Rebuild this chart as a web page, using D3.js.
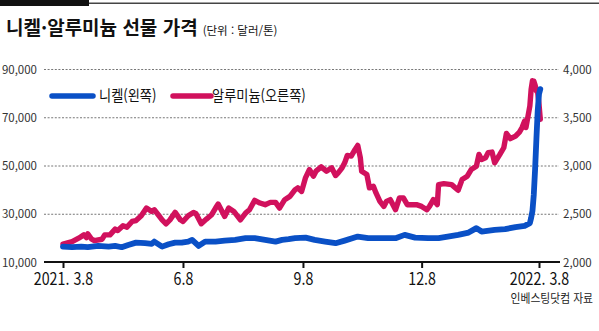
<!DOCTYPE html>
<html lang="ko">
<head>
<meta charset="utf-8">
<script src="https://cdn.jsdelivr.net/npm/d3@7"></script>
<style>
  html, body { margin: 0; padding: 0; background: #fff; }
  svg { display: block; }
  text { font-family: "Noto Sans CJK KR", "Noto Sans", sans-serif; }
</style>
</head>
<body>
<svg id="chart" width="599" height="331"></svg>
<script>
// Nickel (USD/ton, left axis)
const nickelDates = [
  "2021-03-08","2021-03-15","2021-03-22","2021-03-27","2021-04-04","2021-04-12","2021-04-17",
  "2021-04-22","2021-04-27","2021-05-03","2021-05-10","2021-05-15","2021-05-17","2021-05-23",
  "2021-05-28","2021-06-02","2021-06-07","2021-06-12","2021-06-15","2021-06-20","2021-06-25",
  "2021-07-03","2021-07-10","2021-07-18","2021-07-26","2021-08-02","2021-08-10","2021-08-18",
  "2021-08-23","2021-08-28","2021-09-02","2021-09-10","2021-09-17","2021-09-25","2021-10-03",
  "2021-10-10","2021-10-20","2021-10-28","2021-11-07","2021-11-18","2021-11-25","2021-12-03",
  "2021-12-13","2021-12-21","2021-12-28","2022-01-05","2022-01-13","2022-01-19","2022-01-23",
  "2022-02-02","2022-02-10","2022-02-18","2022-02-25","2022-03-01","2022-03-02","2022-03-03",
  "2022-03-04","2022-03-05","2022-03-06","2022-03-07","2022-03-08","2022-03-09"
];
const nickelPrices = [
  16400,16125,16375,16125,16667,16375,16667,
  16125,17083,18042,17792,17500,18458,16375,
  17375,18042,18042,18458,19167,16667,18458,
  18458,18875,19167,19875,19875,19167,18458,
  19167,19458,19875,20083,19167,18458,17792,
  18875,20542,19875,19875,19875,21250,20125,
  19875,19875,20542,21250,22208,24042,22625,
  23333,23625,24458,25000,26125,28333,31250,
  37917,48333,60833,72500,79583,81667
];

// Aluminium (USD/ton, right axis)
const aluminumDates = [
  "2021-03-08","2021-03-15","2021-03-20","2021-03-24","2021-03-26","2021-03-27","2021-03-30",
  "2021-04-01","2021-04-07","2021-04-09","2021-04-13","2021-04-17","2021-04-19","2021-04-23",
  "2021-04-26","2021-04-30","2021-05-03","2021-05-07","2021-05-11","2021-05-15","2021-05-17",
  "2021-05-20","2021-05-23","2021-05-26","2021-05-29","2021-06-02","2021-06-06","2021-06-08",
  "2021-06-12","2021-06-16","2021-06-18","2021-06-22","2021-06-26","2021-06-30","2021-07-03",
  "2021-07-05","2021-07-08","2021-07-10","2021-07-13","2021-07-17","2021-07-22","2021-07-26",
  "2021-07-29","2021-08-02","2021-08-06","2021-08-10","2021-08-14","2021-08-18","2021-08-21",
  "2021-08-25","2021-08-29","2021-09-02","2021-09-04","2021-09-07","2021-09-10","2021-09-13",
  "2021-09-16","2021-09-18","2021-09-22","2021-09-26","2021-09-30","2021-10-03","2021-10-05",
  "2021-10-08","2021-10-10","2021-10-12","2021-10-15","2021-10-18","2021-10-20","2021-10-22",
  "2021-10-23","2021-10-27","2021-10-29","2021-11-01","2021-11-03","2021-11-06","2021-11-09",
  "2021-11-11","2021-11-14","2021-11-18","2021-11-21","2021-11-24","2021-11-27","2021-11-30",
  "2021-12-04","2021-12-08","2021-12-12","2021-12-14","2021-12-17","2021-12-20","2021-12-21",
  "2021-12-25","2021-12-31","2022-01-05","2022-01-08","2022-01-12","2022-01-15","2022-01-19",
  "2022-01-21","2022-01-23","2022-01-26","2022-01-28","2022-01-31","2022-02-02","2022-02-06",
  "2022-02-09","2022-02-11","2022-02-14","2022-02-18","2022-02-21","2022-02-23","2022-02-25",
  "2022-02-26","2022-03-01","2022-03-02","2022-03-03","2022-03-04","2022-03-05","2022-03-06",
  "2022-03-07","2022-03-08","2022-03-09"
];
const aluminumPrices = [
  2185,2211,2247,2281,2253,2292,2236,
  2222,2236,2281,2281,2341,2326,2375,
  2361,2420,2430,2479,2559,2524,2542,
  2490,2437,2396,2437,2514,2437,2420,
  2479,2514,2500,2396,2445,2490,2559,
  2601,2524,2472,2559,2524,2437,2507,
  2542,2639,2611,2594,2618,2618,2559,
  2646,2680,2750,2768,2732,2875,2958,
  2889,2941,2986,2941,2976,2896,2924,
  2976,3028,3104,3097,3167,3208,3080,
  2941,2906,2768,2784,2716,2628,2576,
  2628,2646,2542,2664,2664,2594,2594,
  2594,2576,2542,2576,2646,2594,2802,
  2812,2802,2743,2854,2889,2958,2993,
  3115,3063,3080,3132,3139,3028,3115,
  3184,3333,3278,3305,3347,3393,3461,
  3393,3618,3792,3878,3875,3833,3774,
  3757,3635,3479
];

// Axis ticks
const leftTicks = [10000, 30000, 50000, 70000, 90000];
const rightTicks = [2000, 2500, 3000, 3500, 4000];
const xTickDates = ["2021-03-08", "2021-06-08", "2021-09-08", "2021-12-08", "2022-03-08"];
const xTickLabels = ["2021. 3.8", "6.8", "9.8", "12.8", "2022. 3.8"];

const seriesNames = ["니켈(왼쪽)", "알루미늄(오른쪽)"];
const colors = { nickel: "#0a50c6", aluminum: "#d1115d" };

const parse = d3.utcParse("%Y-%m-%d");
const nickel = nickelDates.map((d, i) => ({ date: parse(d), value: nickelPrices[i] }));
const aluminum = aluminumDates.map((d, i) => ({ date: parse(d), value: aluminumPrices[i] }));

const svg = d3.select("#chart");

const plot = { left: 44, right: 560, top: 69, bottom: 262 };

const x = d3.scaleUtc()
  .domain([parse(xTickDates[0]), parse(xTickDates[xTickDates.length - 1])])
  .range([63, 539]);
const yLeft = d3.scaleLinear().domain([10000, 90000]).range([plot.bottom, plot.top]);
const yRight = d3.scaleLinear().domain([2000, 4000]).range([plot.bottom, plot.top]);

// Header rule
svg.append("line")
  .attr("x1", 88).attr("x2", 599).attr("y1", 3.2).attr("y2", 3.2)
  .attr("stroke", "#444").attr("stroke-width", 1.6);
svg.append("rect")
  .attr("x", 0).attr("y", 0).attr("width", 89).attr("height", 6)
  .attr("fill", "#111");

// Title
const title = svg.append("text")
  .attr("x", 6).attr("y", 35)
  .attr("fill", "#111");
title.append("tspan")
  .attr("font-size", 19).attr("font-weight", 700)
  .text("니켈·알루미늄 선물 가격");
title.append("tspan")
  .attr("dx", 5)
  .attr("font-size", 11.5).attr("font-weight", 400)
  .text("(단위 : 달러/톤)");

// Gridlines
const grid = svg.append("g");
grid.selectAll("line")
  .data(leftTicks.slice(1))
  .join("line")
  .attr("x1", plot.left).attr("x2", plot.right - 1)
  .attr("y1", d => yLeft(d) + 0.5).attr("y2", d => yLeft(d) + 0.5)
  .attr("stroke", "#777").attr("stroke-width", 1)
  .attr("stroke-dasharray", "2,1.6");

// Left axis labels
const leftAxis = d3.axisLeft(yLeft)
  .tickValues(leftTicks)
  .tickFormat(d3.format(","))
  .tickSize(0)
  .tickPadding(0);
svg.append("g")
  .attr("transform", "translate(37,0)")
  .call(leftAxis)
  .call(g => g.select(".domain").remove())
  .call(g => g.selectAll("text")
    .attr("font-family", "'Noto Sans', sans-serif")
    .attr("font-size", 11.5).attr("fill", "#333").attr("dy", "0.36em"));

// Right axis labels
const rightAxis = d3.axisRight(yRight)
  .tickValues(rightTicks)
  .tickFormat(d3.format(","))
  .tickSize(0)
  .tickPadding(0);
svg.append("g")
  .attr("transform", "translate(563,0)")
  .call(rightAxis)
  .call(g => g.select(".domain").remove())
  .call(g => g.selectAll("text")
    .attr("font-family", "'Noto Sans', sans-serif")
    .attr("font-size", 11.5).attr("fill", "#333").attr("dy", "0.36em"));

// Series lines
const lineLeft = d3.line().x(d => x(d.date)).y(d => yLeft(d.value)).curve(d3.curveLinear);
const lineRight = d3.line().x(d => x(d.date)).y(d => yRight(d.value)).curve(d3.curveLinear);

svg.append("path")
  .datum(aluminum)
  .attr("d", lineRight)
  .attr("fill", "none")
  .attr("stroke", colors.aluminum)
  .attr("stroke-width", 5.4)
  .attr("stroke-linejoin", "round")
  .attr("stroke-linecap", "round");

svg.append("path")
  .datum(nickel)
  .attr("d", lineLeft)
  .attr("fill", "none")
  .attr("stroke", colors.nickel)
  .attr("stroke-width", 5.8)
  .attr("stroke-linejoin", "round")
  .attr("stroke-linecap", "round");

// Bottom axis
const xAxis = d3.axisBottom(x)
  .tickValues(xTickDates.map(parse))
  .tickFormat((d, i) => xTickLabels[i])
  .tickSizeOuter(0)
  .tickSize(6)
  .tickPadding(5);
svg.append("g")
  .attr("transform", `translate(0,${plot.bottom})`)
  .call(xAxis)
  .call(g => g.select(".domain").remove())
  .call(g => g.selectAll(".tick line").attr("stroke", "#111").attr("stroke-width", 2))
  .call(g => g.selectAll(".tick text")
    .attr("font-size", 17).attr("fill", "#111")
    .attr("transform", "scale(0.84,1)"));
svg.append("line")
  .attr("x1", plot.left).attr("x2", plot.right)
  .attr("y1", plot.bottom).attr("y2", plot.bottom)
  .attr("stroke", "#111").attr("stroke-width", 2);

// Legend
const legendItems = [
  { name: seriesNames[0], color: colors.nickel, x0: 52, x1: 93, tx: 99 },
  { name: seriesNames[1], color: colors.aluminum, x0: 173, x1: 211, tx: 212 }
];
const legend = svg.append("g");
legendItems.forEach(item => {
  legend.append("line")
    .attr("x1", item.x0).attr("x2", item.x1)
    .attr("y1", 96).attr("y2", 96)
    .attr("stroke", item.color).attr("stroke-width", 5.5)
    .attr("stroke-linecap", "round");
  legend.append("text")
    .attr("transform", `translate(${item.tx},101) scale(0.88,1)`)
    .attr("font-size", 15).attr("fill", "#111")
    .text(item.name);
});

// Source
svg.append("text")
  .attr("transform", "translate(593,303) scale(0.9,1)")
  .attr("text-anchor", "end")
  .attr("font-size", 12).attr("fill", "#222")
  .text("인베스팅닷컴 자료");
</script>
</body>
</html>
